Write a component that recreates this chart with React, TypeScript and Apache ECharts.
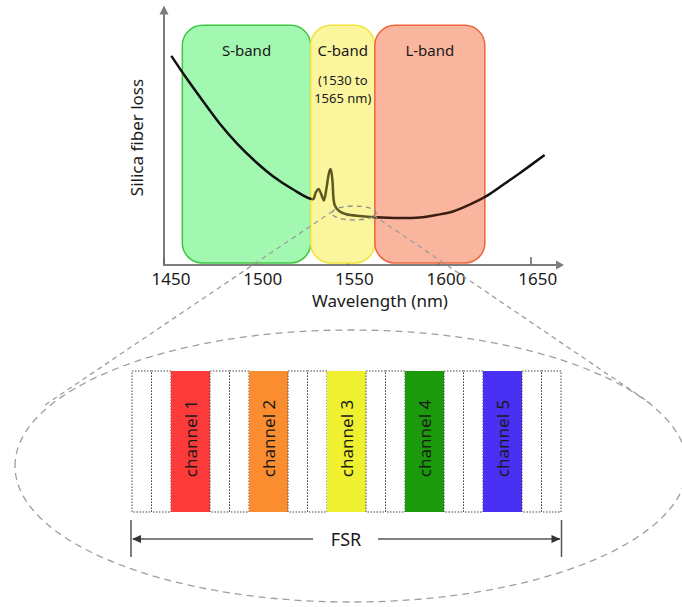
import React, { useEffect, useRef } from 'react';
import * as echarts from 'echarts';

const FONT = '"Noto Sans", "Open Sans", "DejaVu Sans", sans-serif';

// Upper chart: silica fiber loss vs wavelength
const wavelengthTicks = [1450, 1500, 1550, 1600, 1650];
const lossWavelengths = [
  1454, 1462, 1471, 1480, 1490, 1500, 1510, 1520, 1531.2,
  1532.7, 1534.3, 1535.9, 1537.2, 1538.6, 1539.8, 1540.9, 1541.9, 1542.4, 1543.2,
  1545.5, 1549.4, 1556.7, 1564.9, 1578.5, 1589.4, 1598.5, 1607.6, 1617, 1625.8,
  1635, 1644, 1657.6,
];
const lossValues = [
  82.0, 73.5, 64.5, 55.8, 47.5, 40.5, 34.5, 29.8, 25.8,
  28.3, 29.8, 27.5, 25.3, 30.0, 35.5, 37.6, 33.0, 26.5, 23.3,
  21.2, 19.9, 19.2, 18.7, 18.4, 18.6, 19.6, 21.0, 23.8, 27.0,
  31.5, 36.0, 43.1,
];

const bandNames = ['S-band', 'C-band', 'L-band'];
const bandStarts = [1460, 1530, 1565];
const bandEnds = [1530, 1565, 1625];
const bandNotes = ['', '(1530 to\n1565 nm)', ''];
const bandFills = ['#a2f7b1', '#fbf59e', '#f9b59d'];
const bandStrokes = ['#3fc63f', '#efe43c', '#f0643c'];

// Lower diagram: channel grid within one FSR
const slotKinds = [
  'guard', 'guard', 'channel',
  'guard', 'guard', 'channel',
  'guard', 'guard', 'channel',
  'guard', 'guard', 'channel',
  'guard', 'guard', 'channel',
  'guard', 'guard',
];
const channelLabels = ['channel 1', 'channel 2', 'channel 3', 'channel 4', 'channel 5'];
const channelColors = ['#fd3a3a', '#fa8d2f', '#eff02f', '#1b9a0b', '#4a30f2'];

export default function App() {
  const ref = useRef<HTMLDivElement>(null);

  useEffect(() => {
    if (!ref.current) return;
    const chart = echarts.init(ref.current, null, { renderer: 'svg' });

    const lossData = lossWavelengths.map((w, i) => [w, lossValues[i]]);
    const bandData = bandNames.map((_, i) => [bandStarts[i], bandEnds[i], i]);

    const slotData: number[][] = [];
    let pos = 0;
    let ch = 0;
    slotKinds.forEach((k) => {
      const w = k === 'channel' ? 2 : 1;
      slotData.push([pos, pos + w, k === 'channel' ? ch++ : -1]);
      pos += w;
    });
    const slotTotal = pos;

    const BAND_TOP = 94;
    const BAND_BOTTOM = 0.8;

    const option: any = {
      animation: false,
      backgroundColor: '#ffffff',
      textStyle: { fontFamily: FONT },
      grid: [
        { left: 164, right: 122, top: 10, bottom: 342 },
        { left: 132, top: 371, width: 429, height: 141 },
      ],
      xAxis: [
        {
          type: 'value',
          gridIndex: 0,
          min: 1450,
          max: 1666,
          name: 'Wavelength (nm)',
          nameLocation: 'middle',
          nameGap: 27,
          nameTextStyle: {
            fontSize: 17,
            color: '#1a1a1a',
            fontFamily: FONT,
            lineHeight: 16,
            padding: [0, 0, 0, 36],
          },
          axisLine: {
            show: true,
            symbol: ['none', 'triangle'],
            symbolSize: [9, 8],
            lineStyle: { color: '#7d7d7d', width: 2 },
          },
          axisTick: {
            show: true,
            inside: true,
            length: 8,
            customValues: wavelengthTicks,
            lineStyle: { color: '#666', width: 1.5 },
          },
          axisLabel: {
            show: true,
            customValues: wavelengthTicks,
            formatter: (v: number) => String(v),
            fontSize: 17,
            lineHeight: 16,
            color: '#1a1a1a',
            fontFamily: FONT,
            margin: 5,
            padding: [0, 0, 0, 14],
          },
          splitLine: { show: false },
        },
        { type: 'value', gridIndex: 1, min: 0, max: slotTotal, show: false },
      ],
      yAxis: [
        {
          type: 'value',
          gridIndex: 0,
          min: 0,
          max: 100,
          name: 'Silica fiber loss',
          nameLocation: 'middle',
          nameGap: 18,
          nameTextStyle: { fontSize: 17, color: '#1a1a1a', fontFamily: FONT, lineHeight: 20 },
          axisLine: {
            show: true,
            symbol: ['none', 'triangle'],
            symbolSize: [9, 9],
            lineStyle: { color: '#7d7d7d', width: 2 },
          },
          axisTick: { show: false },
          axisLabel: { show: false },
          splitLine: { show: false },
        },
        { type: 'value', gridIndex: 1, min: 0, max: 1, show: false },
      ],
      visualMap: {
        type: 'piecewise',
        show: false,
        dimension: 0,
        seriesIndex: 1,
        pieces: [
          { lt: 1530, color: '#111111' },
          { gte: 1530, lt: 1565, color: '#5c5822' },
          { gte: 1565, lt: 1625, color: '#3a1e14' },
          { gte: 1625, color: '#111111' },
        ],
      },
      series: [
        {
          type: 'custom',
          xAxisIndex: 0,
          yAxisIndex: 0,
          z: 1,
          clip: false,
          data: bandData,
          encode: { x: [0, 1] },
          renderItem: (params: any, api: any) => {
            const i = api.value(2);
            const p0 = api.coord([api.value(0), BAND_TOP]);
            const p1 = api.coord([api.value(1), BAND_BOTTOM]);
            const cx = (p0[0] + p1[0]) / 2;
            const children: any[] = [
              {
                type: 'rect',
                shape: { x: p0[0], y: p0[1], width: p1[0] - p0[0], height: p1[1] - p0[1], r: 20 },
                style: { fill: bandFills[i], stroke: bandStrokes[i], lineWidth: 1.5 },
              },
              {
                type: 'text',
                x: cx,
                y: p0[1] + 25,
                style: {
                  text: bandNames[i],
                  fill: '#1a1a1a',
                  fontSize: 15,
                  fontFamily: FONT,
                  align: 'center',
                  verticalAlign: 'middle',
                },
              },
            ];
            if (bandNotes[i]) {
              children.push({
                type: 'text',
                x: cx,
                y: p0[1] + 46,
                style: {
                  text: bandNotes[i],
                  fill: '#1a1a1a',
                  fontSize: 13,
                  fontFamily: FONT,
                  lineHeight: 18,
                  align: 'center',
                  verticalAlign: 'top',
                },
              });
            }
            return { type: 'group', children };
          },
        },
        {
          type: 'line',
          xAxisIndex: 0,
          yAxisIndex: 0,
          z: 3,
          data: lossData,
          showSymbol: false,
          smooth: 0.3,
          lineStyle: { width: 2.5 },
        },
        {
          type: 'custom',
          xAxisIndex: 1,
          yAxisIndex: 1,
          z: 2,
          clip: false,
          data: slotData,
          encode: { x: [0, 1] },
          renderItem: (params: any, api: any) => {
            const c = api.value(2);
            const p0 = api.coord([api.value(0), 1]);
            const p1 = api.coord([api.value(1), 0]);
            const w = p1[0] - p0[0];
            const h = p1[1] - p0[1];
            if (c < 0) {
              return {
                type: 'rect',
                shape: { x: p0[0], y: p0[1], width: w, height: h },
                style: { fill: '#ffffff', stroke: '#444', lineWidth: 1, lineDash: [1.5, 1.5] },
              };
            }
            return {
              type: 'group',
              children: [
                {
                  type: 'rect',
                  shape: { x: p0[0], y: p0[1], width: w, height: h },
                  style: { fill: channelColors[c] },
                },
                {
                  type: 'text',
                  x: p0[0] + w / 2,
                  y: p0[1] + h / 2 - 3,
                  rotation: Math.PI / 2,
                  style: {
                    text: channelLabels[c],
                    fill: '#1a1a1a',
                    fontSize: 17,
                    fontFamily: FONT,
                    align: 'center',
                    verticalAlign: 'middle',
                  },
                },
              ],
            };
          },
        },
      ],
      graphic: [
        {
          type: 'ellipse',
          z: 100,
          shape: { cx: 351, cy: 466, rx: 336, ry: 136 },
          style: { fill: 'none', stroke: '#9e9e9e', lineWidth: 1.3, lineDash: [7, 5] },
        },
        {
          type: 'ellipse',
          z: 100,
          shape: { cx: 354, cy: 213, rx: 22, ry: 7 },
          style: { fill: 'none', stroke: '#8e8e8e', lineWidth: 1.3, lineDash: [5, 4] },
        },
        {
          type: 'line',
          z: 100,
          shape: { x1: 333, y1: 211, x2: 45, y2: 405 },
          style: { stroke: '#9e9e9e', lineWidth: 1.3, lineDash: [5, 4] },
        },
        {
          type: 'line',
          z: 100,
          shape: { x1: 373, y1: 215, x2: 650, y2: 403 },
          style: { stroke: '#9e9e9e', lineWidth: 1.3, lineDash: [5, 4] },
        },
        {
          type: 'line',
          z: 100,
          shape: { x1: 131, y1: 520, x2: 131, y2: 557 },
          style: { stroke: '#555', lineWidth: 1.5 },
        },
        {
          type: 'line',
          z: 100,
          shape: { x1: 561.5, y1: 520, x2: 561.5, y2: 557 },
          style: { stroke: '#555', lineWidth: 1.5 },
        },
        {
          type: 'line',
          z: 100,
          shape: { x1: 133, y1: 539, x2: 313, y2: 539 },
          style: { stroke: '#555', lineWidth: 1.5 },
        },
        {
          type: 'line',
          z: 100,
          shape: { x1: 378, y1: 539, x2: 560, y2: 539 },
          style: { stroke: '#555', lineWidth: 1.5 },
        },
        {
          type: 'polygon',
          z: 100,
          shape: { points: [[132, 539], [141, 535], [141, 543]] },
          style: { fill: '#333' },
        },
        {
          type: 'polygon',
          z: 100,
          shape: { points: [[560.5, 539], [551.5, 535], [551.5, 543]] },
          style: { fill: '#333' },
        },
        {
          type: 'text',
          z: 100,
          x: 346,
          y: 539,
          style: {
            text: 'FSR',
            fill: '#1a1a1a',
            fontSize: 18,
            fontFamily: FONT,
            align: 'center',
            verticalAlign: 'middle',
          },
        },
      ],
    };

    chart.setOption(option);
    return () => chart.dispose();
  }, []);

  return (
    <div
      ref={ref}
      style={{ position: 'fixed', left: 0, top: 0, width: 682, height: 607, background: '#fff' }}
    />
  );
}
